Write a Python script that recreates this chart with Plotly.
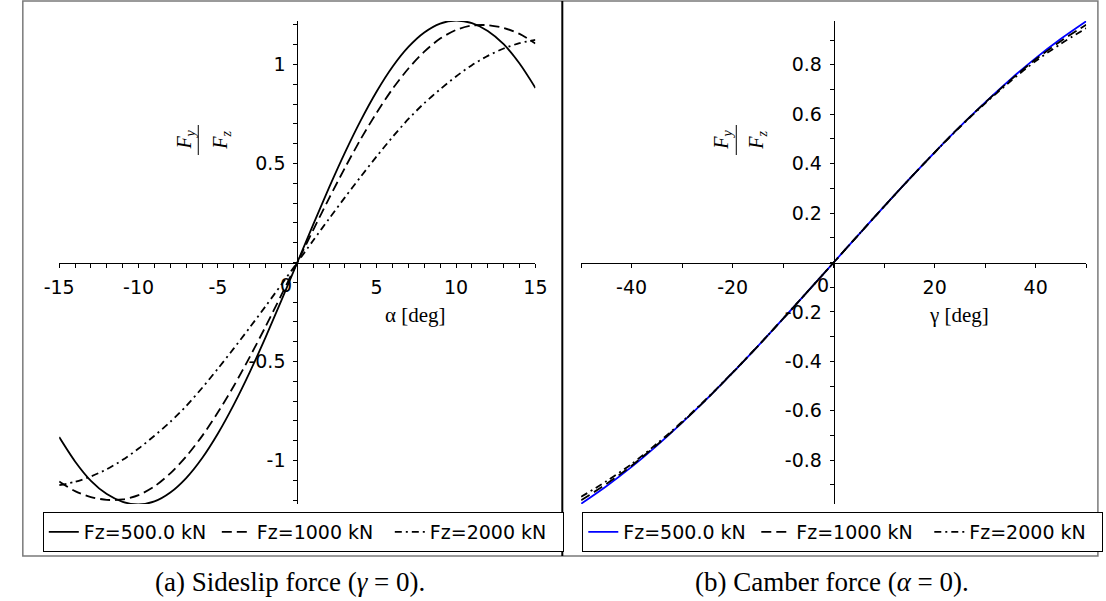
import plotly.graph_objects as go

W, H = 1106, 601

# ---------------- data ----------------
alpha_deg = [-15, -14, -13, -12, -11, -10, -9, -8, -7, -6, -5, -4, -3, -2, -1, 0,
             1, 2, 3, 4, 5, 6, 7, 8, 9, 10, 11, 12, 13, 14, 15]
side_500 = [-0.882, -1.005, -1.103, -1.170, -1.209, -1.222, -1.207, -1.162, -1.089, -0.989,
            -0.864, -0.718, -0.555, -0.378, -0.191, 0.0,
            0.191, 0.378, 0.555, 0.718, 0.864, 0.989, 1.089, 1.162, 1.207, 1.222,
            1.209, 1.170, 1.103, 1.005, 0.882]
side_1000 = [-1.106, -1.155, -1.185, -1.199, -1.197, -1.175, -1.131, -1.065, -0.980, -0.877,
             -0.757, -0.624, -0.478, -0.324, -0.164, 0.0,
             0.164, 0.324, 0.478, 0.624, 0.757, 0.877, 0.980, 1.065, 1.131, 1.175,
             1.197, 1.199, 1.185, 1.155, 1.106]
side_2000 = [-1.125, -1.108, -1.081, -1.044, -0.997, -0.940, -0.875, -0.805, -0.725, -0.634,
             -0.536, -0.434, -0.329, -0.221, -0.111, 0.0,
             0.111, 0.221, 0.329, 0.434, 0.536, 0.634, 0.725, 0.805, 0.875, 0.940,
             0.997, 1.044, 1.081, 1.108, 1.125]

gamma_deg = [-50, -45, -40, -35, -30, -25, -20, -15, -10, -5, 0,
             5, 10, 15, 20, 25, 30, 35, 40, 45, 50]
camb_500 = [-0.976, -0.905, -0.827, -0.741, -0.648, -0.550, -0.446, -0.338, -0.227, -0.114, 0.0,
            0.114, 0.227, 0.338, 0.446, 0.550, 0.648, 0.741, 0.827, 0.905, 0.976]
camb_1000 = [-0.962, -0.896, -0.822, -0.738, -0.647, -0.550, -0.446, -0.338, -0.227, -0.114, 0.0,
             0.114, 0.227, 0.338, 0.446, 0.550, 0.647, 0.738, 0.822, 0.896, 0.962]
camb_2000 = [-0.948, -0.885, -0.815, -0.733, -0.644, -0.548, -0.445, -0.338, -0.227, -0.114, 0.0,
             0.114, 0.227, 0.338, 0.445, 0.548, 0.644, 0.733, 0.815, 0.885, 0.948]

series_names = ["Fz=500.0 kN", "Fz=1000 kN", "Fz=2000 kN"]

left_xticks = [-15, -10, -5, 5, 10, 15]
left_xtext = ["-15", "-10", "-5", "5", "10", "15"]
left_yticks = [-1, -0.5, 0.5, 1]
left_ytext = ["-1", "-0.5", "0.5", "1"]
right_xticks = [-40, -20, 20, 40]
right_xtext = ["-40", "-20", "20", "40"]
right_yticks = [-0.8, -0.6, -0.4, -0.2, 0.2, 0.4, 0.6, 0.8]
right_ytext = ["-0.8", "-0.6", "-0.4", "-0.2", "0.2", "0.4", "0.6", "0.8"]

# ---------------- styling helpers ----------------
def px(x):
    return x / W

def py(y):
    return 1 - y / H

TICKFONT = dict(family="DejaVu Sans", size=19, color="black")
SERIF = "Liberation Serif"
DASH = "10px,5px"
DASHDOT = "7px,4px,2px,4px"
LW = 1.8

fig = go.Figure()

left_styles = [("black", "solid"), ("black", DASH), ("black", DASHDOT)]
right_styles = [("#0000ff", "solid"), ("black", DASH), ("black", DASHDOT)]

for name, ys, (c, d) in zip(series_names, [side_500, side_1000, side_2000], left_styles):
    fig.add_trace(go.Scatter(x=alpha_deg, y=ys, mode="lines", name=name,
                             line=dict(color=c, dash=d, width=LW, shape="spline", smoothing=0.8),
                             xaxis="x", yaxis="y", legend="legend"))

for name, ys, (c, d) in zip(series_names, [camb_500, camb_1000, camb_2000], right_styles):
    fig.add_trace(go.Scatter(x=gamma_deg, y=ys, mode="lines", name=name,
                             line=dict(color=c, dash=d, width=LW, shape="spline", smoothing=0.8),
                             xaxis="x2", yaxis="y2", legend="legend2"))

ydom = [py(504), py(21)]
yaxis_pos = (ydom[0] + ydom[1]) / 2

def xaxis_cfg(domain, rng, tv, tt, minor_dt):
    return dict(domain=domain, range=rng, anchor="free", position=yaxis_pos,
                showline=True, linecolor="black", linewidth=1,
                ticks="outside", ticklen=4, tickcolor="black", tickwidth=1,
                tickvals=tv, ticktext=tt, tickfont=TICKFONT, ticklabelstandoff=4,
                minor=dict(dtick=minor_dt, tick0=0, ticks="outside", ticklen=4,
                           tickcolor="black", showgrid=False),
                showgrid=False, zeroline=False, fixedrange=True)

def yaxis_cfg(rng, pos, tv, tt, minor_dt):
    return dict(domain=ydom, range=rng, anchor="free", position=pos,
                showline=True, linecolor="black", linewidth=1,
                ticks="outside", ticklen=4, tickcolor="black", tickwidth=1,
                tickvals=tv, ticktext=tt, tickfont=TICKFONT, ticklabelstandoff=4,
                minor=dict(dtick=minor_dt, tick0=0, ticks="outside", ticklen=4,
                           tickcolor="black", showgrid=False),
                showgrid=False, zeroline=False, fixedrange=True)

xdom1 = [px(44.3), px(532.9)]
xdom2 = [px(579.8), px(1098.0)]

legend_common = dict(orientation="h", xanchor="left", yanchor="top",
                     bordercolor="black", borderwidth=1, bgcolor="white",
                     font=dict(family="DejaVu Sans", size=19, color="black"),
                     itemwidth=30, tracegroupgap=0, entrywidth=128, entrywidthmode="pixels")

fig.update_layout(
    width=W, height=H, autosize=False,
    margin=dict(l=0, r=0, t=0, b=0),
    paper_bgcolor="white", plot_bgcolor="white",
    showlegend=True,
    xaxis=xaxis_cfg(xdom1, [-15, 15], left_xticks, left_xtext, 1),
    yaxis=yaxis_cfg([-1.22, 1.22], (xdom1[0] + xdom1[1]) / 2, left_yticks, left_ytext, 0.1),
    xaxis2=xaxis_cfg(xdom2, [-50, 50], right_xticks, right_xtext, 10),
    yaxis2=yaxis_cfg([-0.977, 0.977], (xdom2[0] + xdom2[1]) / 2, right_yticks, right_ytext, 0.1),
    legend=dict(x=px(27.5), y=py(512), **legend_common),
    legend2=dict(x=px(581), y=py(512), **legend_common),
)

def ann(x, y, text, font, **kw):
    d = dict(x=px(x), y=py(y), xref="paper", yref="paper", text=text, showarrow=False,
             xanchor="center", yanchor="middle", font=font)
    d.update(kw)
    return d

annotations = []
# origin "0" labels
for xr, yr in [("x", "y"), ("x2", "y2")]:
    annotations.append(dict(x=0, y=0, xref=xr, yref=yr, text="0", showarrow=False,
                            xanchor="right", yanchor="middle", xshift=-3, yshift=-22,
                            font=TICKFONT))
# x axis titles
annotations.append(ann(410, 315, "α [deg]", dict(family=SERIF, size=21, color="black")))
annotations.append(ann(968, 315, "γ [deg]", dict(family=SERIF, size=21, color="black")))
# y axis fraction labels (rotated)
FRACFONT = dict(family=SERIF, size=20, color="black")
for num_x, bar_x, den_x in [(173, 187, 210), (724, 739, 760)]:
    annotations.append(ann(num_x, 140, "<i>F<sub>y</sub></i>", FRACFONT, textangle=-90))
    annotations.append(ann(den_x, 140, "<i>F<sub>z</sub></i>", FRACFONT, textangle=-90))
# captions
annotations.append(ann(281, 582, "(a) Sideslip force (<i>γ</i> = 0).",
                       dict(family=SERIF, size=27, color="black")))
annotations.append(ann(837, 582, "(b) Camber force (<i>α</i> = 0).",
                       dict(family=SERIF, size=27, color="black")))
fig.update_layout(annotations=annotations)

shapes = [
    # outer frame
    dict(type="rect", xref="paper", yref="paper", x0=px(7), x1=px(1110), y0=py(556), y1=py(1),
         line=dict(color="#7a7a7a", width=1.5), fillcolor="rgba(0,0,0,0)", layer="below"),
    # divider
    dict(type="line", xref="paper", yref="paper", x0=px(560.5), x1=px(560.5), y0=py(556), y1=py(1),
         line=dict(color="black", width=2)),
    # fraction bars
    dict(type="line", xref="paper", yref="paper", x0=px(187), x1=px(187), y0=py(155), y1=py(125),
         line=dict(color="black", width=1)),
    dict(type="line", xref="paper", yref="paper", x0=px(739), x1=px(739), y0=py(155), y1=py(125),
         line=dict(color="black", width=1)),
]
fig.update_layout(shapes=shapes)

fig.write_html("out.html")
